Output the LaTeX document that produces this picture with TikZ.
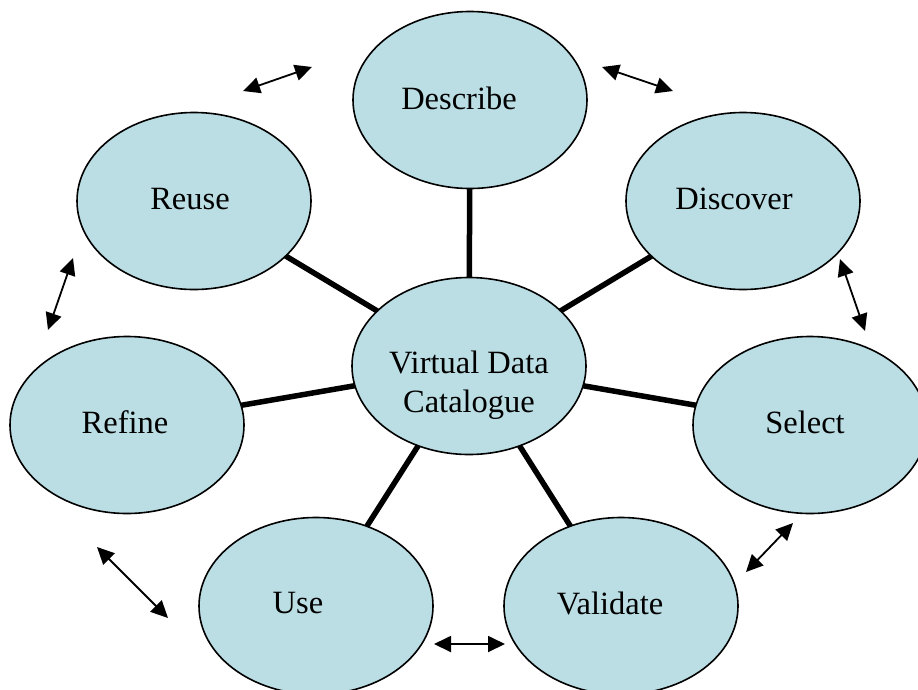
\documentclass[tikz,border=0pt]{standalone}
\usepackage{fontspec}
\setmainfont{Liberation Serif}
\usetikzlibrary{shapes.geometric,arrows.meta}
\definecolor{blobfill}{RGB}{186,222,228}
\tikzset{
  blob/.style={ellipse, draw=black, line width=1.6pt, fill=blobfill,
    minimum width=234pt, minimum height=177pt, inner sep=0pt, outer sep=0pt},
  lbl/.style={font=\fontsize{32.5}{39}\selectfont, align=center, inner sep=0pt},
  spoke/.style={line width=5.5pt},
  cyc/.style={line width=1.8pt, {Triangle[length=17pt,width=16pt]}-{Triangle[length=17pt,width=16pt]}}
}
\begin{document}
\begin{tikzpicture}[x=1pt,y=-1pt]
\useasboundingbox (0,0) rectangle (918,689);
\begin{scope}
\clip (0,0) rectangle (918,689);
\node[blob, label={[lbl, xshift=-11pt, yshift=2pt]center:Describe}] (describe) at (470,100) {};
\node[blob, label={[lbl, xshift=-9pt, yshift=2pt]center:Discover}] (discover) at (743,201) {};
\node[blob, label={[lbl, xshift=-4pt, yshift=2pt]center:Reuse}] (reuse) at (194,201) {};
\node[blob, label={[lbl, xshift=-2pt, yshift=3pt]center:Refine}] (refine) at (127,425) {};
\node[blob, label={[lbl, xshift=-5pt, yshift=3pt]center:Select}] (select) at (810,425) {};
\node[blob, label={[lbl, xshift=-18pt, yshift=3pt]center:Use}] (use) at (316,606) {};
\node[blob, label={[lbl, xshift=-11pt, yshift=3pt]center:Validate}] (validate) at (621,606) {};
\node[blob, label={[lbl, yshift=-19pt]center:Virtual Data\\Catalogue}] (vdc) at (469,366) {};
\end{scope}
\foreach \n in {describe,discover,reuse,refine,select,use,validate}
  \draw[spoke] (vdc) -- (\n);
% cycle arrows
\coordinate (a1s) at (243,91);  \coordinate (a1e) at (312,67);
\coordinate (a2s) at (602,67);  \coordinate (a2e) at (673,91);
\coordinate (a3s) at (73,258);  \coordinate (a3e) at (48,330);
\coordinate (a4s) at (840,259); \coordinate (a4e) at (865,331);
\coordinate (a5s) at (97,547);  \coordinate (a5e) at (168,618);
\coordinate (a6s) at (434,644); \coordinate (a6e) at (505,644);
\coordinate (a7s) at (746,572); \coordinate (a7e) at (793,523);
\foreach \k in {1,...,7}
  \draw[cyc] (a\k s) -- (a\k e);
\end{tikzpicture}
\end{document}
